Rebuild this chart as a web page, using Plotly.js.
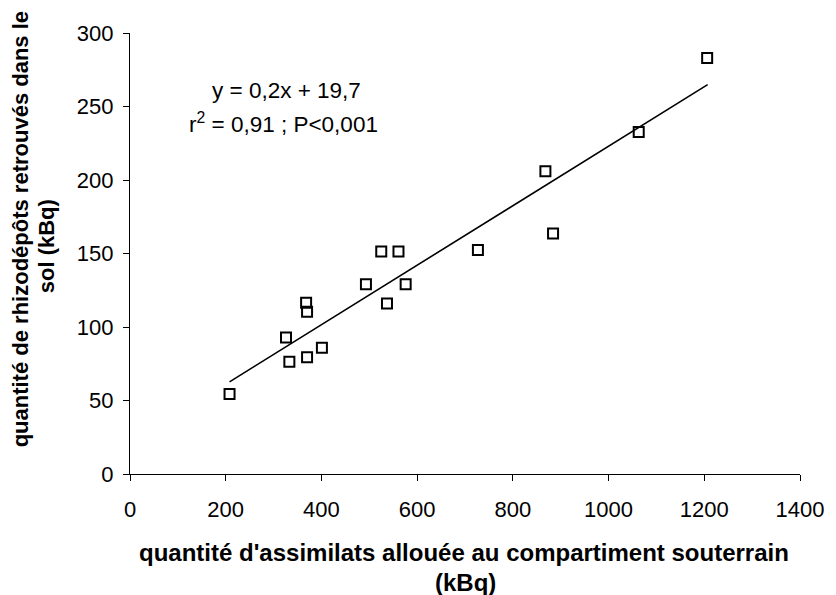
<!DOCTYPE html>
<html>
<head>
<meta charset="utf-8">
<script src="https://cdn.plot.ly/plotly-3.0.1.min.js"></script>
<style>html,body{margin:0;padding:0;background:#fff;}#chart{width:836px;height:595px;}</style>
</head>
<body>
<div id="chart"></div>
<script>
// Observed points: allocated assimilates (kBq) vs rhizodeposits in soil (kBq)
var assimilats = [208, 326, 333, 368, 370, 370, 401, 493, 525, 561, 537, 576, 727, 868, 884, 1063, 1206];
var rhizodepots = [54.4, 92.9, 76.3, 116.5, 110.3, 79.5, 85.9, 129.0, 151.4, 151.4, 116.0, 129.0, 152.3, 206.0, 163.6, 232.7, 283.0];
// Regression line endpoints
var fitX = [208, 1207];
var fitY = [62.7, 264.9];
var xTicks = [0, 200, 400, 600, 800, 1000, 1200, 1400];
var yTicks = [0, 50, 100, 150, 200, 250, 300];

var font = "Liberation Sans, Arial, sans-serif";

var traces = [
  {x: fitX, y: fitY, mode: 'lines', type: 'scatter',
   line: {color: '#000', width: 1.6}, hoverinfo: 'skip'},
  {x: assimilats, y: rhizodepots, mode: 'markers', type: 'scatter',
   marker: {symbol: 'square-open', size: 10, color: '#000', line: {width: 2, color: '#000'}}}
];

var layout = {
  width: 836, height: 595,
  margin: {l: 129.5, r: 35.5, t: 32.7, b: 121},
  paper_bgcolor: '#fff', plot_bgcolor: '#fff',
  showlegend: false,
  font: {family: font, color: '#000', size: 22},
  xaxis: {range: [0, 1400], tickvals: xTicks, ticktext: xTicks.map(String),
    showline: true, linecolor: '#000', linewidth: 1.2, ticks: 'outside', ticklen: 6,
    tickcolor: '#000', showgrid: false, zeroline: false, ticklabelstandoff: 9,
    tickfont: {family: font, size: 22, color: '#000'}},
  yaxis: {range: [0, 300], tickvals: yTicks, ticktext: yTicks.map(String),
    showline: true, linecolor: '#000', linewidth: 1.2, ticks: 'outside', ticklen: 6,
    tickcolor: '#000', showgrid: false, zeroline: false, ticklabelstandoff: 5,
    tickfont: {family: font, size: 22, color: '#000'}},
  annotations: [
    {text: "quantité d'assimilats allouée au compartiment souterrain",
     xref: 'paper', yref: 'paper', x: 0.498, y: -0.179, xanchor: 'center', yanchor: 'middle',
     showarrow: false, font: {family: font, size: 24, color: '#000', weight: 'bold'}},
    {text: "(kBq)",
     xref: 'paper', yref: 'paper', x: 0.5, y: -0.245, xanchor: 'center', yanchor: 'middle',
     showarrow: false, font: {family: font, size: 24, color: '#000', weight: 'bold'}},
    {text: "quantité de rhizodépôts retrouvés dans le", textangle: -90,
     xref: 'paper', yref: 'paper', x: -0.164, y: 0.555, xanchor: 'center', yanchor: 'middle',
     showarrow: false, font: {family: font, size: 22, color: '#000', weight: 'bold'}},
    {text: "sol (kBq)", textangle: -90,
     xref: 'paper', yref: 'paper', x: -0.125, y: 0.517, xanchor: 'center', yanchor: 'middle',
     showarrow: false, font: {family: font, size: 22, color: '#000', weight: 'bold'}},
    {text: "y = 0,2x + 19,7",
     xref: 'x', yref: 'y', x: 328, y: 261, xanchor: 'center', yanchor: 'middle',
     showarrow: false, font: {family: font, size: 22.5, color: '#000'}},
    {text: "r<sup>2</sup> = 0,91 ; P<0,001",
     xref: 'x', yref: 'y', x: 320, y: 238.5, xanchor: 'center', yanchor: 'middle',
     showarrow: false, font: {family: font, size: 22.5, color: '#000'}}
  ]
};

Plotly.newPlot('chart', traces, layout, {displayModeBar: false, staticPlot: true});
</script>
</body>
</html>
